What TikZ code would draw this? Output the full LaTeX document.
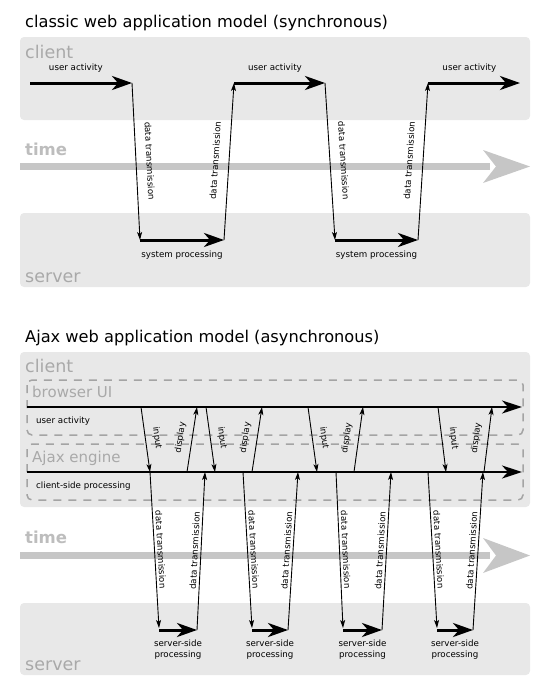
\documentclass[tikz,border=0pt]{standalone}
\usepackage{fontspec}
\setmainfont{DejaVu Sans}
\usetikzlibrary{arrows.meta}

\definecolor{boxgray}{HTML}{E8E8E8}
\definecolor{labelgray}{HTML}{A9A9A9}
\definecolor{timegray}{HTML}{C6C6C6}
\definecolor{timetext}{HTML}{BDBDBD}
\definecolor{dashgray}{HTML}{A4A4A4}

\tikzset{
  lane/.style={fill=boxgray, rounded corners=4pt},
  title/.style={font=\fontsize{16.2}{19}\selectfont, anchor=base west, inner sep=0pt},
  lanelabel/.style={text=labelgray, font=\fontsize{17.5}{20}\selectfont, anchor=base west, inner sep=0pt},
  sublabel/.style={text=labelgray, font=\fontsize{15}{18}\selectfont, anchor=base west, inner sep=0pt},
  timelabel/.style={text=timetext, font=\fontsize{16.5}{19}\selectfont\bfseries, anchor=base west, inner sep=0pt},
  tag/.style={font=\fontsize{8.7}{11}\selectfont, inner sep=1pt},
  heavy/.style={line width=3pt, -{Stealth[length=20pt,width=14pt,inset=6pt]}},
  heavyline/.style={line width=2.5pt, -{Stealth[length=20pt,width=13pt,inset=6pt]}},
  wire/.style={line width=0.9pt, -{Stealth[length=8pt,width=5pt,inset=2pt]}},
  dashbox/.style={draw=dashgray, line width=1.5pt, dash pattern=on 8pt off 7pt, rounded corners=5pt},
}

\begin{document}
\begin{tikzpicture}[x=1pt, y=-1pt]
        \useasboundingbox (0,0) rectangle (539,681);

        % Classic model: lanes
        \node[title] (title1) at (25,27) {classic web application model (synchronous)};
        \fill[lane] (20,37) rectangle (530,120);
        \fill[lane] (20,213) rectangle (530,287);
        \node[lanelabel] (client1) at (25,58) {client};
        \node[timelabel] (time1) at (25,155) {time};
        \node[lanelabel] (server1) at (25,282) {server};
        \fill[timegray] (20,163) rectangle (490,170);
        \fill[timegray] (483,150) -- (530,166.5) -- (483,183) -- (496,166.5) -- cycle;

        % Classic model: points on client and server
        \coordinate (c1) at (30,83);
        \coordinate (c2) at (132,83);
        \coordinate (s1) at (140,240);
        \coordinate (s2) at (224,240);
        \coordinate (c3) at (234,83);
        \coordinate (c4) at (325,83);
        \coordinate (s3) at (335,240);
        \coordinate (s4) at (418,240);
        \coordinate (c5) at (428,83);
        \coordinate (c6) at (520,83);

        \draw[heavy] (c1) -- node[pos=0.45, above=8pt, tag] (ua1) {user activity} (c2);
        \draw[wire] (c2) -- node[midway, sloped, above=9pt, tag] (dt1) {data transmission} (s1);
        \draw[heavy] (s1) -- node[midway, below=8pt, tag] (sp1) {system processing} (s2);
        \draw[wire] (s2) -- node[midway, sloped, above=9pt, tag] (dt2) {data transmission} (c3);
        \draw[heavy] (c3) -- node[pos=0.45, above=8pt, tag] (ua2) {user activity} (c4);
        \draw[wire] (c4) -- node[midway, sloped, above=9pt, tag] (dt3) {data transmission} (s3);
        \draw[heavy] (s3) -- node[midway, below=8pt, tag] (sp2) {system processing} (s4);
        \draw[wire] (s4) -- node[midway, sloped, above=9pt, tag] (dt4) {data transmission} (c5);
        \draw[heavy] (c5) -- node[pos=0.45, above=8pt, tag] (ua3) {user activity} (c6);

        % Ajax model: lanes
        \node[title] (title2) at (25,342) {Ajax web application model (asynchronous)};
        \fill[lane] (20,352) rectangle (530,507);
        \fill[lane] (20,603) rectangle (530,675);
        \node[lanelabel] (client2) at (25,372) {client};
        \draw[dashbox] (27,380) rectangle (523,435);
        \draw[dashbox] (27,444) rectangle (523,500);
        \node[sublabel] (browser) at (32,397) {browser UI};
        \node[sublabel] (engine) at (32,462) {Ajax engine};
        \node[timelabel] (time2) at (25,543) {time};
        \node[lanelabel] (server2) at (25,670) {server};
        \fill[timegray] (20,552) rectangle (490,559);
        \fill[timegray] (483,538) -- (530,555.5) -- (483,573) -- (496,555.5) -- cycle;

        % Browser UI and Ajax engine lines
        \coordinate (ui0) at (27,407);
        \coordinate (ui9) at (522,407);
        \coordinate (ae0) at (27,472);
        \coordinate (ae9) at (522,472);
        \draw[heavyline] (ui0) -- (ui9);
        \draw[heavyline] (ae0) -- (ae9);
        \node[tag, anchor=base west] (ua) at (35,423) {user activity};
        \node[tag, anchor=base west] (csp) at (35,488) {client-side processing};

        % Input and display edges
        \coordinate (i1t) at (141,407);
        \coordinate (i1b) at (150,472);
        \coordinate (d1b) at (187,472);
        \coordinate (d1t) at (197,407);
        \coordinate (i2t) at (206,407);
        \coordinate (i2b) at (215,472);
        \coordinate (d2b) at (252,472);
        \coordinate (d2t) at (262,407);
        \coordinate (i3t) at (308,407);
        \coordinate (i3b) at (317,472);
        \coordinate (d3b) at (354,472);
        \coordinate (d3t) at (363,407);
        \coordinate (i4t) at (438,407);
        \coordinate (i4b) at (446,472);
        \coordinate (d4b) at (484,472);
        \coordinate (d4t) at (492,407);

        \draw[wire] (i1t) -- node[midway, sloped, above=6pt, tag] (in1) {input} (i1b);
        \draw[wire] (d1b) -- node[midway, sloped, above=6pt, tag] (ds1) {display} (d1t);
        \draw[wire] (i2t) -- node[midway, sloped, above=6pt, tag] (in2) {input} (i2b);
        \draw[wire] (d2b) -- node[midway, sloped, above=6pt, tag] (ds2) {display} (d2t);
        \draw[wire] (i3t) -- node[midway, sloped, above=6pt, tag] (in3) {input} (i3b);
        \draw[wire] (d3b) -- node[midway, sloped, above=6pt, tag] (ds3) {display} (d3t);
        \draw[wire] (i4t) -- node[midway, sloped, above=6pt, tag] (in4) {input} (i4b);
        \draw[wire] (d4b) -- node[midway, sloped, above=6pt, tag] (ds4) {display} (d4t);

        % Engine to server and back
        \coordinate (e1) at (150,472);
        \coordinate (a1) at (159,628);
        \coordinate (b1) at (159,630);
        \coordinate (f1) at (197,630);
        \coordinate (g1) at (205,472);
        \coordinate (e2) at (243,472);
        \coordinate (a2) at (252,628);
        \coordinate (b2) at (252,630);
        \coordinate (f2) at (288,630);
        \coordinate (g2) at (298,472);
        \coordinate (e3) at (336,472);
        \coordinate (a3) at (343,628);
        \coordinate (b3) at (343,630);
        \coordinate (f3) at (382,630);
        \coordinate (g3) at (391,472);
        \coordinate (e4) at (428,472);
        \coordinate (a4) at (437,628);
        \coordinate (b4) at (437,630);
        \coordinate (f4) at (473,630);
        \coordinate (g4) at (483,472);

        \draw[wire] (e1) -- node[midway, sloped, above=1.5pt, tag] (dn1) {data transmission} (a1);
        \draw[heavy] (b1) -- node[midway, below=7pt, tag, align=center] (ssp1) {server-side\\processing} (f1);
        \draw[wire] (f1) -- node[midway, sloped, above=1.5pt, tag] (up1) {data transmission} (g1);
        \draw[wire] (e2) -- node[midway, sloped, above=1.5pt, tag] (dn2) {data transmission} (a2);
        \draw[heavy] (b2) -- node[midway, below=7pt, tag, align=center] (ssp2) {server-side\\processing} (f2);
        \draw[wire] (f2) -- node[midway, sloped, above=1.5pt, tag] (up2) {data transmission} (g2);
        \draw[wire] (e3) -- node[midway, sloped, above=1.5pt, tag] (dn3) {data transmission} (a3);
        \draw[heavy] (b3) -- node[midway, below=7pt, tag, align=center] (ssp3) {server-side\\processing} (f3);
        \draw[wire] (f3) -- node[midway, sloped, above=1.5pt, tag] (up3) {data transmission} (g3);
        \draw[wire] (e4) -- node[midway, sloped, above=1.5pt, tag] (dn4) {data transmission} (a4);
        \draw[heavy] (b4) -- node[midway, below=7pt, tag, align=center] (ssp4) {server-side\\processing} (f4);
        \draw[wire] (f4) -- node[midway, sloped, above=1.5pt, tag] (up4) {data transmission} (g4);

\end{tikzpicture}
\end{document}
